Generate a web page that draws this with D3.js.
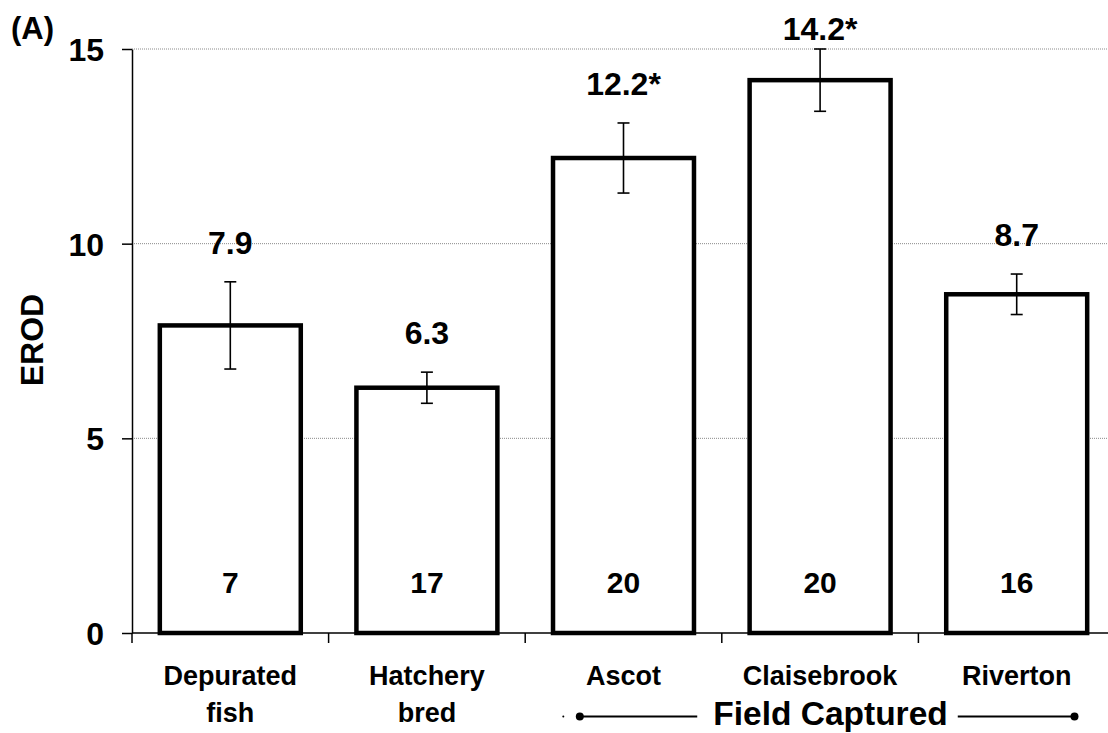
<!DOCTYPE html>
<html>
<head>
<meta charset="utf-8">
<script src="https://cdn.jsdelivr.net/npm/d3@7"></script>
<style>
  body { margin: 0; background: #fff; }
  text { font-family: "Liberation Sans", Arial, sans-serif; font-weight: bold; fill: #000; }
</style>
</head>
<body>
<div id="chart"></div>
<script>
// data
var categories = ["Depurated fish", "Hatchery bred", "Ascot", "Claisebrook", "Riverton"];
var catLines = [["Depurated", "fish"], ["Hatchery", "bred"], ["Ascot"], ["Claisebrook"], ["Riverton"]];
var means = [7.9, 6.3, 12.2, 14.2, 8.7];
var errors = [1.12, 0.40, 0.90, 0.80, 0.52];
var counts = [7, 17, 20, 20, 16];
var signif = [false, false, true, true, false];
var yTicks = [0, 5, 10, 15];
var groupLabel = "Field Captured";

var svgWidth = 1108;
var svgHeight = 733;

var svg = d3.select("#chart")
    .append("svg")
    .attr("width", svgWidth)
    .attr("height", svgHeight);

var data = categories.map(function(c, i) {
    return { cat: c, lines: catLines[i], mean: means[i], err: errors[i], n: counts[i], sig: signif[i] };
});

// scales
var x = d3.scaleBand()
    .domain(categories)
    .range([132, 1115])
    .paddingInner(0.283)
    .paddingOuter(0.1415);

var y = d3.scaleLinear()
    .domain([0, 15])
    .range([633, 49]);

var halfGap = (x.step() - x.bandwidth()) / 2;

// gridlines
svg.append("g").selectAll("line")
    .data(yTicks.filter(function(t) { return t > 0; }))
    .enter()
    .append("line")
    .attr("x1", 132)
    .attr("x2", svgWidth)
    .attr("y1", d => y(d))
    .attr("y2", d => y(d))
    .attr("stroke", "#8a8a8a")
    .attr("stroke-width", 1)
    .attr("stroke-dasharray", "1,1");

// y axis
var leftAxis = d3.axisLeft(y)
    .tickValues(yTicks)
    .tickSize(10)
    .tickSizeOuter(0)
    .tickPadding(18);

var yAxis = svg.append("g")
    .attr("transform", "translate(132,0)")
    .call(leftAxis);
yAxis.select(".domain").attr("stroke", "#000").attr("stroke-width", 1.5);
yAxis.selectAll(".tick line").attr("stroke", "#000").attr("stroke-width", 1.5);
yAxis.selectAll(".tick text")
    .attr("font-size", 32)
    .attr("font-family", "Liberation Sans, Arial, sans-serif")
    .attr("font-weight", "bold")
    .attr("dy", "0.36em")
    .attr("fill", "#000");

// x axis line and boundary ticks
svg.append("line")
    .attr("x1", x.range()[0])
    .attr("x2", x.range()[1])
    .attr("y1", y(0))
    .attr("y2", y(0))
    .attr("stroke", "#000")
    .attr("stroke-width", 1.5);

var bounds = categories.map(function(c) { return x(c) - halfGap; });
bounds.push(x(categories[categories.length - 1]) + x.bandwidth() + halfGap);

svg.append("g").selectAll("line")
    .data(bounds)
    .enter()
    .append("line")
    .attr("x1", d => d)
    .attr("x2", d => d)
    .attr("y1", y(0))
    .attr("y2", y(0) + 10)
    .attr("stroke", "#000")
    .attr("stroke-width", 1.5);

// bars
svg.append("g").selectAll("rect")
    .data(data)
    .enter()
    .append("rect")
    .attr("x", d => x(d.cat))
    .attr("y", d => y(d.mean))
    .attr("width", x.bandwidth())
    .attr("height", d => y(0) - y(d.mean))
    .attr("fill", "#fff")
    .attr("stroke", "#000")
    .attr("stroke-width", 4.5);

// error bars
var errG = svg.append("g")
    .attr("stroke", "#000")
    .attr("stroke-width", 1.6);

data.forEach(function(d) {
    var cx = x(d.cat) + x.bandwidth() / 2;
    var hi = y(d.mean + d.err);
    var lo = y(d.mean - d.err);
    errG.append("line").attr("x1", cx).attr("x2", cx).attr("y1", hi).attr("y2", lo);
    errG.append("line").attr("x1", cx - 6).attr("x2", cx + 6).attr("y1", hi).attr("y2", hi);
    errG.append("line").attr("x1", cx - 6).attr("x2", cx + 6).attr("y1", lo).attr("y2", lo);
});

// mean labels
svg.append("g").selectAll("text")
    .data(data)
    .enter()
    .append("text")
    .attr("x", d => x(d.cat) + x.bandwidth() / 2)
    .attr("y", d => Math.max(40, y(d.mean + d.err) - 28))
    .attr("text-anchor", "middle")
    .attr("font-size", 32)
    .text(d => d.mean.toFixed(1) + (d.sig ? "*" : ""));

// n labels
svg.append("g").selectAll("text")
    .data(data)
    .enter()
    .append("text")
    .attr("x", d => x(d.cat) + x.bandwidth() / 2)
    .attr("y", 593)
    .attr("text-anchor", "middle")
    .attr("font-size", 30)
    .text(d => d.n);

// category labels
var catText = svg.append("g").selectAll("text")
    .data(data)
    .enter()
    .append("text")
    .attr("x", d => x(d.cat) + x.bandwidth() / 2)
    .attr("y", 685)
    .attr("text-anchor", "middle")
    .attr("font-size", 27);

catText.selectAll("tspan")
    .data(d => d.lines.map(function(l) { return { line: l, cx: x(d.cat) + x.bandwidth() / 2 }; }))
    .enter()
    .append("tspan")
    .attr("x", d => d.cx)
    .attr("dy", (d, i) => i === 0 ? 0 : 37)
    .text(d => d.line);

// "Field Captured" bracket
var gx0 = x("Ascot") + x.bandwidth() * 0.19;
var gx1 = x("Riverton") + x.bandwidth() * 0.91;
var gy = 716.5;

var fc = svg.append("text")
    .attr("x", 830.5)
    .attr("y", 725)
    .attr("text-anchor", "middle")
    .attr("font-size", 33.5)
    .text(groupLabel);
var fcLen = fc.node().getComputedTextLength();

svg.append("line")
    .attr("x1", gx0).attr("x2", 830.5 - fcLen / 2 - 16)
    .attr("y1", gy).attr("y2", gy)
    .attr("stroke", "#000").attr("stroke-width", 2);
svg.append("line")
    .attr("x1", 830.5 + fcLen / 2 + 10).attr("x2", gx1)
    .attr("y1", gy).attr("y2", gy)
    .attr("stroke", "#000").attr("stroke-width", 2);
svg.append("circle").attr("cx", gx0).attr("cy", gy).attr("r", 4).attr("fill", "#000");
svg.append("circle").attr("cx", gx1).attr("cy", gy).attr("r", 4).attr("fill", "#000");
svg.append("circle").attr("cx", gx0 - 16.5).attr("cy", gy).attr("r", 1).attr("fill", "#000");

// axis title and panel label
svg.append("text")
    .attr("transform", "translate(43,340) rotate(-90)")
    .attr("text-anchor", "middle")
    .attr("font-size", 32)
    .text("EROD");

svg.append("text")
    .attr("x", 11)
    .attr("y", 39)
    .attr("font-size", 31)
    .text("(A)");
</script>
</body>
</html>
